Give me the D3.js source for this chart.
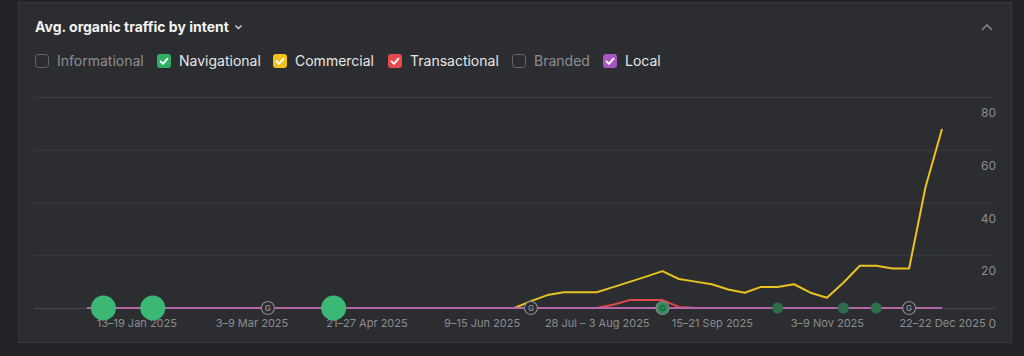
<!DOCTYPE html>
<html><head><meta charset="utf-8">
<script src="https://cdn.jsdelivr.net/npm/d3@7/dist/d3.min.js"></script>
<style>
html,body{margin:0;padding:0;background:#222326;}
svg{display:block;font-family:Inter,"Noto Sans",sans-serif;}
</style></head><body>
<svg id="c" width="1024" height="356"></svg>
<script>
const weeks = ["2024-12-23","2024-12-30","2025-01-06","2025-01-13","2025-01-20","2025-01-27","2025-02-03","2025-02-10","2025-02-17","2025-02-24","2025-03-03","2025-03-10","2025-03-17","2025-03-24","2025-03-31","2025-04-07","2025-04-14","2025-04-21","2025-04-28","2025-05-05","2025-05-12","2025-05-19","2025-05-26","2025-06-02","2025-06-09","2025-06-16","2025-06-23","2025-06-30","2025-07-07","2025-07-14","2025-07-21","2025-07-28","2025-08-04","2025-08-11","2025-08-18","2025-08-25","2025-09-01","2025-09-08","2025-09-15","2025-09-22","2025-09-29","2025-10-06","2025-10-13","2025-10-20","2025-10-27","2025-11-03","2025-11-10","2025-11-17","2025-11-24","2025-12-01","2025-12-08","2025-12-15","2025-12-22"];
const commercial = [0,0,0,0,0,0,0,0,0,0,0,0,0,0,0,0,0,0,0,0,0,0,0,0,0,0,0,2.6,4.9,6,6,6,7.9,9.9,11.9,14,11,10,9,7,5.8,8,8,9,5.8,3.9,9.6,16,16,15,15,45.9,67.9];
const transactional = [0,0,0,0,0,0,0,0,0,0,0,0,0,0,0,0,0,0,0,0,0,0,0,0,0,0,0,0,0,0,0,0,1.2,3,3,3,0.4,0,0,0,0,0,0,0,0,0,0,0,0,0,0,0,0];
const local = [0,0,0,0,0,0,0,0,0,0,0,0,0,0,0,0,0,0,0,0,0,0,0,0,0,0,0,0,0,0,0,0,0,0,0,0,0,0,0,0,0,0,0,0,0,0,0,0,0,0,0,0,0];
const tickWeeks = ["2025-01-13","2025-03-03","2025-04-21","2025-06-09","2025-07-28","2025-09-15","2025-11-03","2025-12-22"];
const tickLabels = ["13–19 Jan 2025","3–9 Mar 2025","21–27 Apr 2025","9–15 Jun 2025","28 Jul – 3 Aug 2025","15–21 Sep 2025","3–9 Nov 2025","22–22 Dec 2025"];
const yTicks = [0,20,40,60,80];
const bigEvents = ["2024-12-30","2025-01-20","2025-04-07"];
const smallEvents = ["2025-10-13","2025-11-10","2025-11-24"];
const googleEvents = ["2025-03-10","2025-06-30","2025-08-25","2025-12-08"];
const googleEventGreen = [false,false,true,false];
const legendNames = ["Informational","Navigational","Commercial","Transactional","Branded","Local"];
const legendChecked = [false,true,true,true,false,true];
const legendColors = ["none","#2fae64","#f2c21b","#e5484d","none","#a559c0"];
const title = "Avg. organic traffic by intent";

const svg = d3.select("#c");
// panel
svg.append("rect").attr("x",18.5).attr("y",2.5).attr("width",993).attr("height",340)
  .attr("fill","#2c2d30").attr("stroke","#37383c");

// title
svg.append("text").attr("x",35).attr("y",32).attr("fill","#f2f2f2")
  .attr("font-size",14).attr("font-weight",700).text(title);
svg.append("path").attr("d","M235.5,25.5 L238.5,28.5 L241.5,25.5").attr("fill","none")
  .attr("stroke","#d0d0d0").attr("stroke-width",1.4);
// collapse chevron
svg.append("path").attr("d","M982,30 L987,25 L992,30").attr("fill","none")
  .attr("stroke","#808185").attr("stroke-width",1.6);

// legend
const legendX = [35,157,273,388,512,603];
legendNames.forEach((n,i)=>{
  const g = svg.append("g").attr("transform",`translate(${legendX[i]},54)`);
  if(legendChecked[i]){
    g.append("rect").attr("width",14).attr("height",14).attr("rx",3).attr("fill",legendColors[i]);
    g.append("path").attr("d","M3.5,7.3 L6,9.8 L10.5,4.6").attr("fill","none")
      .attr("stroke","#fff").attr("stroke-width",1.8).attr("stroke-linecap","round").attr("stroke-linejoin","round");
  } else {
    g.append("rect").attr("x",0.5).attr("y",0.5).attr("width",13).attr("height",13).attr("rx",3)
      .attr("fill","none").attr("stroke","#66676b");
  }
  g.append("text").attr("x",22).attr("y",12).attr("font-size",14)
    .attr("fill",legendChecked[i]?"#e6e6e6":"#8d8e92").text(n);
});

// scales
const x = d3.scalePoint().domain(weeks).range([87,942]);
const y = d3.scaleLinear().domain([0,80]).range([308,97]);

// grid
svg.append("g").selectAll("line").data(yTicks).join("line")
  .attr("x1",34).attr("x2",995).attr("y1",d=>y(d)+0.5).attr("y2",d=>y(d)+0.5)
  .attr("stroke",d=>d===0?"#47484c":"#3b3c40").attr("stroke-width",1);
// y labels
svg.append("g").selectAll("text").data(yTicks).join("text")
  .attr("x",996).attr("y",d=>y(d)+20).attr("text-anchor","end")
  .attr("font-size",12).attr("fill","#8b8c90").text(d=>d);

// x labels via axis
const xAxis = d3.axisBottom(x).tickValues(tickWeeks).tickSize(0).tickPadding(0)
  .tickFormat(d=>tickLabels[tickWeeks.indexOf(d)]);
const ax = svg.append("g").attr("transform","translate(0,319)").call(xAxis);
ax.select(".domain").remove();
ax.selectAll("text").attr("font-size",11).attr("fill","#8b8c90").attr("font-family","Inter,'Noto Sans',sans-serif").attr("dy","0.71em");

// lines
const line = d3.line().x((d,i)=>x(weeks[i])).y(d=>y(d));
svg.append("path").datum(commercial).attr("d",line).attr("fill","none")
  .attr("stroke","#e8c320").attr("stroke-width",2).attr("stroke-linejoin","round");
svg.append("path").datum(transactional).attr("d",line).attr("fill","none")
  .attr("stroke","#e2474f").attr("stroke-width",2).attr("stroke-linejoin","round");
svg.append("path").datum(local).attr("d",line).attr("fill","none")
  .attr("stroke","#b466a6").attr("stroke-width",2.2);

// event markers
svg.append("g").selectAll("circle").data(bigEvents).join("circle")
  .attr("cx",d=>x(d)).attr("cy",y(0)).attr("r",12.5).attr("fill","#3bb873");
svg.append("g").selectAll("circle").data(smallEvents).join("circle")
  .attr("cx",d=>x(d)).attr("cy",y(0)).attr("r",5.5).attr("fill","#2f6e4d");
const ge = svg.append("g").selectAll("g").data(googleEvents).join("g")
  .attr("transform",d=>`translate(${x(d)},${y(0)})`);
ge.append("circle").attr("r",6.5).attr("fill",(d,i)=>googleEventGreen[i]?"#2e8d5a":"#2c2d30")
  .attr("stroke","#86878b").attr("stroke-width",1.2);
ge.append("text").attr("text-anchor","middle").attr("dy","0.36em").attr("font-size",8)
  .attr("font-weight",600).attr("fill",(d,i)=>googleEventGreen[i]?"#1f5a3a":"#8c8d91").text("G");
</script>
</body></html>
